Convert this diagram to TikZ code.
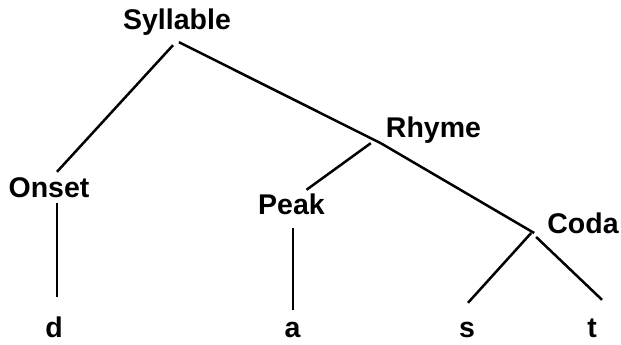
\documentclass[tikz,border=0pt]{standalone}
\usepackage{fontspec}
\setmainfont{Liberation Sans}
\usepackage{tikz}

\begin{document}
\begin{tikzpicture}[x=1pt, y=-1pt,
        lbl/.style={font=\bfseries\fontsize{28.5}{30}\selectfont, inner sep=0pt, text height=20pt, text depth=6pt, anchor=base},
        branch/.style={line width=2.5pt}]
        \useasboundingbox (0,0) rectangle (621,345);
        % labels
        \node[lbl] (Syllable) at (177,30) {Syllable};
        \node[lbl] (Rhyme) at (433.5,137) {Rhyme};
        \node[lbl] (Onset) at (49,197) {Onset};
        \node[lbl] (Peak) at (291.5,214) {Peak};
        \node[lbl] (Coda) at (583,233) {Coda};
        \node[lbl] (d) at (54,337) {d};
        \node[lbl] (a) at (292.5,337) {a};
        \node[lbl] (s) at (467,337) {s};
        \node[lbl] (t) at (592,337) {t};
        % branches
        \draw[branch] ([xshift=-4pt,yshift=-9pt]Syllable.south) -- ([xshift=8pt,yshift=5pt]Onset.north);
        \draw[branch] ([xshift=2pt,yshift=-6pt]Syllable.south) -- ([xshift=-5pt]Rhyme.south west);
        \draw[branch] ([xshift=-15pt]Rhyme.south west) -- ([xshift=15pt,yshift=4pt]Peak.north);
        \draw[branch] ([xshift=-5pt]Rhyme.south west) -- ([xshift=-13pt]Coda.base west);
        \draw[branch] ([xshift=8pt]Onset.south) -- ([xshift=3pt,yshift=20pt]d.north);
        \draw[branch] ([xshift=1.5pt,yshift=-8pt]Peak.south) -- ([xshift=0.5pt,yshift=7pt]a.north);
        \draw[branch] ([xshift=-16pt]Coda.base west) -- ([xshift=1pt,yshift=14pt]s.north);
        \draw[branch] ([xshift=-11pt,yshift=-4pt]Coda.base west) -- ([xshift=10pt,yshift=17pt]t.north);
    \end{tikzpicture}
\end{document}
